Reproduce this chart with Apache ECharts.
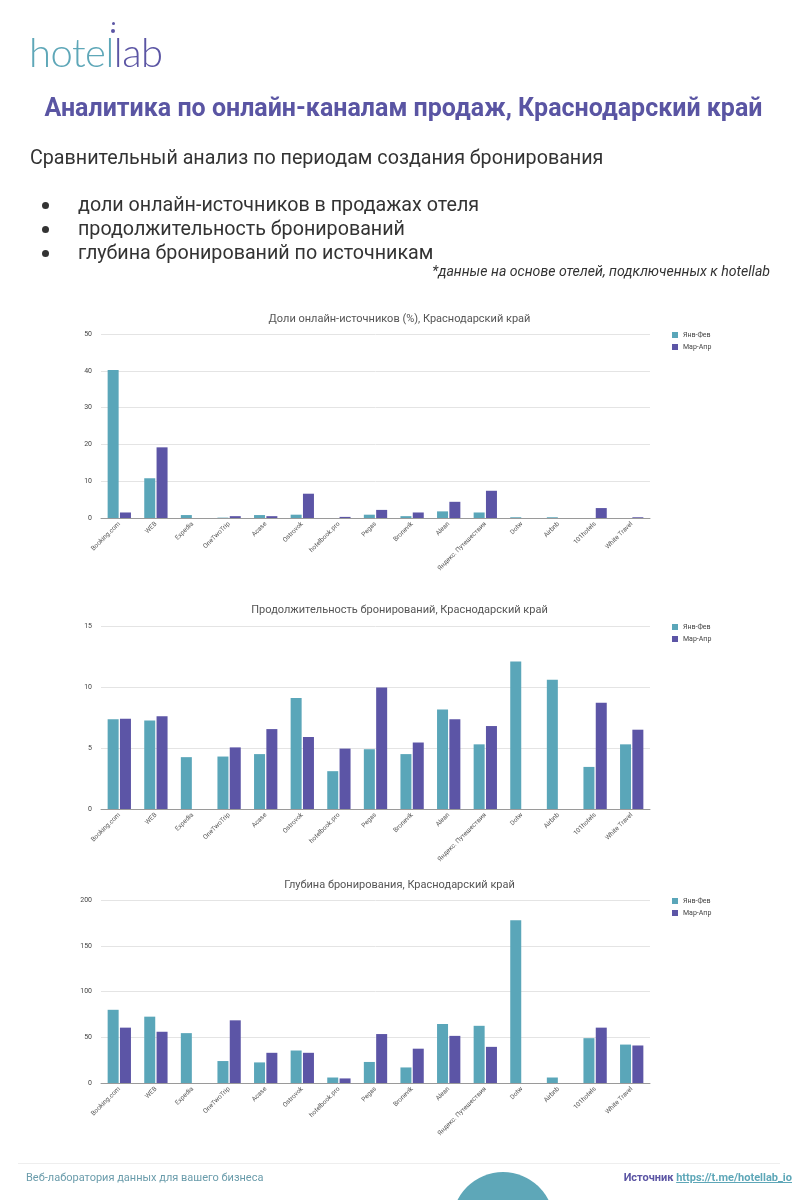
<!DOCTYPE html>
<html>
<head>
<meta charset="utf-8">
<script src="https://cdn.jsdelivr.net/npm/echarts@6/dist/echarts.min.js"></script>
<style>
  html, body { margin: 0; padding: 0; background: #fff; }
  #page { position: relative; width: 799px; height: 1200px; overflow: hidden; font-family: Roboto, "Noto Sans", sans-serif; }
  #chart { position: absolute; left: 0; top: 0; width: 799px; height: 1200px; }
  .abs { position: absolute; white-space: nowrap; }
  #logo { left: 29px; top: 24px; font-family: Lato, Roboto, sans-serif; font-weight: 300; font-size: 40px; line-height: 56px; letter-spacing: -0.5px; }
  #logo .t { color: #5ea7b8; }
  #logo .p { color: #5b55a4; }
  .dot { position: absolute; border-radius: 50%; background: #5b55a4; }
  #title { left: 0; width: 807px; top: 93px; text-align: center; font-weight: 700; font-size: 25px; line-height: 30px; color: #5a55a3; }
  #subtitle { left: 30px; top: 145px; font-size: 19.7px; line-height: 26px; color: #333; }
  .bullet { left: 78px; font-size: 19.7px; line-height: 24px; color: #333; }
  .bdot { position: absolute; left: 42px; width: 7px; height: 7px; border-radius: 50%; background: #333; }
  #note { right: 29px; top: 262px; font-style: italic; font-size: 14.1px; line-height: 18px; color: #333; }
  #fline { left: 18px; width: 762px; top: 1163px; height: 1px; background: #eeeeee; }
  #fleft { left: 26px; top: 1171px; font-size: 11px; line-height: 14px; color: #6a9cab; }
  #fright { right: 7px; top: 1171px; font-size: 11px; line-height: 14px; font-weight: 700; color: #5b55a4; }
  #fright a { color: #5ea7b8; text-decoration: underline; }
  #circle { left: 452px; top: 1172px; width: 102px; height: 102px; border-radius: 50%; background: #5ea7b8; }
</style>
</head>
<body>
<div id="page">
  <div id="chart"></div>
  <div id="logo" class="abs"><span class="t">hotel</span><span class="p">lab</span></div>
  <div class="dot" style="left:112px;top:22px;width:3px;height:3px;"></div>
  <div class="dot" style="left:111px;top:29px;width:4px;height:4px;"></div>
  <div id="title" class="abs">Аналитика по онлайн-каналам продаж, Краснодарский край</div>
  <div id="subtitle" class="abs">Сравнительный анализ по периодам создания бронирования</div>
  <div class="bdot" style="top:202px"></div>
  <div class="bullet abs" style="top:193px">доли онлайн-источников в продажах отеля</div>
  <div class="bdot" style="top:226px"></div>
  <div class="bullet abs" style="top:217px">продолжительность бронирований</div>
  <div class="bdot" style="top:250px"></div>
  <div class="bullet abs" style="top:241px">глубина бронирований по источникам</div>
  <div id="note" class="abs">*данные на основе отелей, подключенных к hotellab</div>
  <div id="fline" class="abs"></div>
  <div id="fleft" class="abs">Веб-лаборатория данных для вашего бизнеса</div>
  <div id="fright" class="abs">Источник <a>https://t.me/hotellab_io</a></div>
  <div id="circle" class="abs"></div>
</div>
<script>
const categories = ['Booking.com', 'WEB', 'Expedia', 'OneTwoTrip', 'Acase', 'Ostrovok', 'hotelbook.pro', 'Pegas', 'Bronevik', 'Alean', 'Яндекс. Путешествия', 'Dotw', 'Airbnb', '101hotels', 'White Travel'];
const seriesNames = ['Янв-Фев', 'Мар-Апр'];
const chartTitles = [
  'Доли онлайн-источников (%), Краснодарский край',
  'Продолжительность бронирований, Краснодарский край',
  'Глубина бронирования, Краснодарский край'
];

const shareJanFeb = [40.2, 10.8, 0.8, 0.1, 0.8, 0.9, 0, 0.9, 0.5, 1.8, 1.5, 0.2, 0.2, 0, 0];
const shareMarApr = [1.5, 19.2, 0, 0.5, 0.5, 6.6, 0.3, 2.2, 1.5, 4.4, 7.4, 0, 0, 2.7, 0.2];

const lengthJanFeb = [7.35, 7.25, 4.25, 4.3, 4.5, 9.1, 3.1, 4.9, 4.5, 8.15, 5.3, 12.1, 10.6, 3.45, 5.3];
const lengthMarApr = [7.4, 7.6, null, 5.05, 6.55, 5.9, 4.95, 9.95, 5.45, 7.35, 6.8, null, null, 8.7, 6.5];

const depthJanFeb = [80, 72.5, 54.5, 24, 22.5, 35.5, 6, 23, 17, 64.5, 62.5, 178, 6, 49, 42];
const depthMarApr = [60.5, 56, null, 68.5, 33, 33, 5, 53.5, 37.5, 51.5, 39.5, null, null, 60.5, 41];

const yMax = [50, 15, 200];
const yInterval = [10, 5, 50];

const colors = ['#5aa6b9', '#5c55a6'];
const gridTops = [334, 626, 900];
const gridHeights = [184, 183, 183];
const titleTops = [309, 600, 875];
const dataSets = [[shareJanFeb, shareMarApr], [lengthJanFeb, lengthMarApr], [depthJanFeb, depthMarApr]];

const font = 'Roboto, "Noto Sans", sans-serif';
const option = {
  animation: false,
  color: colors,
  textStyle: { fontFamily: font },
  title: [], legend: [], grid: [], xAxis: [], yAxis: [], series: []
};

for (let i = 0; i < 3; i++) {
  option.title.push({
    text: chartTitles[i], left: 'center', top: titleTops[i],
    textStyle: { fontSize: 11, fontWeight: 'normal', color: '#555', fontFamily: font }
  });
  option.legend.push({
    orient: 'vertical', left: 667, top: gridTops[i] - 8,
    icon: 'rect', itemWidth: 6, itemHeight: 6, itemGap: 4,
    textStyle: { fontSize: 7, color: '#444', lineHeight: 8 },
    data: seriesNames.map((n, k) => ({ name: n, itemStyle: { color: colors[k] } })),
    selectedMode: false
  });
  option.grid.push({ left: 101, width: 549, top: gridTops[i], height: gridHeights[i] });
  option.xAxis.push({
    type: 'category', gridIndex: i, data: categories,
    axisTick: { show: false },
    axisLine: { lineStyle: { color: '#9a9a9a', width: 1 } },
    axisLabel: { interval: 0, rotate: 45, fontSize: 6.5, color: '#555', margin: 5 }
  });
  option.yAxis.push({
    type: 'value', gridIndex: i, min: 0, max: yMax[i], interval: yInterval[i],
    axisLine: { show: false }, axisTick: { show: false },
    axisLabel: { fontSize: 7, color: '#444', margin: 9 },
    splitLine: { lineStyle: { color: '#e4e4e4', width: 1 } }
  });
  for (let k = 0; k < 2; k++) {
    option.series.push({
      type: 'bar', name: seriesNames[k], xAxisIndex: i, yAxisIndex: i,
      data: dataSets[i][k], barWidth: 11, barGap: '12%',
      itemStyle: { color: colors[k] }
    });
  }
}

const chart = echarts.init(document.getElementById('chart'), null, { renderer: 'canvas' });
chart.setOption(option);
</script>
</body>
</html>
